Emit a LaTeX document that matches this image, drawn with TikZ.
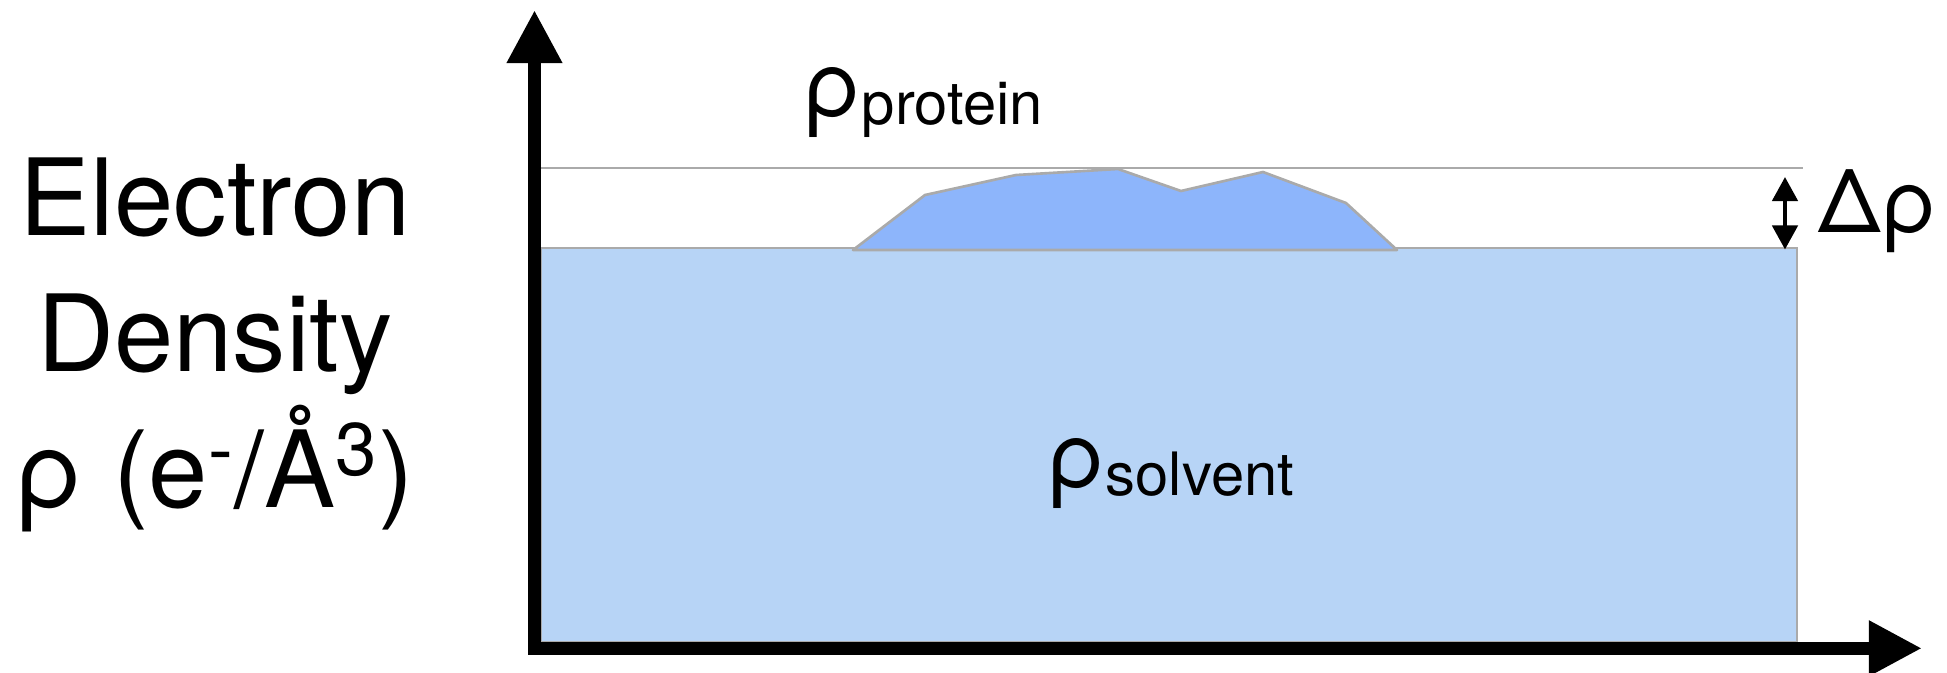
\documentclass[tikz,border=0pt]{standalone}
\usepackage{fontspec}
\setmainfont{TeX Gyre Heros}
\usetikzlibrary{arrows.meta,positioning}

\definecolor{solventblue}{RGB}{183,212,246}
\definecolor{proteinblue}{RGB}{141,181,251}
\definecolor{edgegray}{RGB}{170,170,170}

% big rho with its lowered name
\newcommand{\densof}[1]{ρ\raisebox{-2pt}{\fontsize{17}{17}\selectfont #1}}

\begin{document}
\begin{tikzpicture}[
    x = 0.01cm, y = -0.01cm, %
    > = {Triangle[length=5.3mm,width=5.2mm]}, %
    line join = miter
    ]

    \tikzset{
    axis/.style = {draw = black, line width = 1.3mm, <->},
    densline/.style = {draw = edgegray, line width = 0.75pt},
    solvent/.style = {fill = solventblue, draw = edgegray, line width = 0.75pt},
    protein/.style = {fill = proteinblue, draw = edgegray, line width = 0.75pt, line join = round},
    gap/.style = {line width = 0.45mm, {Triangle[length=2.4mm,width=2.5mm]}-{Triangle[length=2.4mm,width=2.5mm]}},
    ytext/.style = {inner sep = 0, align = center, font = \fontsize{30.3}{38.7}\selectfont},
    rhotext/.style = {inner sep = 0, anchor = base west, font = \fontsize{26}{26}\selectfont}
    }

    \useasboundingbox (0,0) rectangle (1947,673);

    \coordinate (ytip) at (534.5,10);
    \coordinate (xtip) at (1922,648.3);

    % solvent level and protein bump
    \draw[solvent] (541,248) rectangle (1797,642);
    \draw[densline] (528,168) -- (1803,168);
    \draw[protein] (853,250) -- (925,195) -- (1016,175) -- (1118,169)
        -- (1181,191) -- (1263,172) -- (1346,203) -- (1397,250) -- cycle;

    \draw[axis] (ytip) |- (xtip);

    \coordinate (dtop) at (1785,177);
    \coordinate (dbot) at (1785,249.5);
    \draw[gap] (dtop) -- (dbot);

    \node[ytext] (ylabel) at (215,345) {Electron\\Density\\ρ (e\textsuperscript{-}/Å\textsuperscript{3})};
    \node[rhotext] (rhoprot) at (803,117) {\densof{protein}};
    \node[rhotext] (rhosolv) at (1047,488) {\densof{solvent}};
    \node[rhotext, font = \fontsize{25}{25}\selectfont] (deltarho) at (1818,233) {Δρ};

\end{tikzpicture}
\end{document}
